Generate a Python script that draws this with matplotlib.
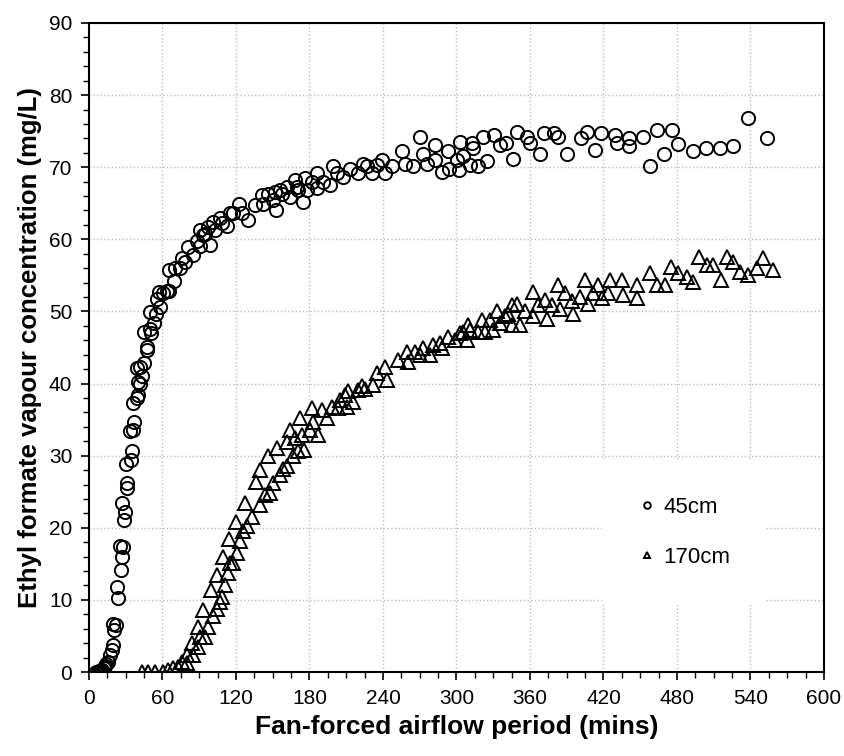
import numpy as np
import matplotlib
matplotlib.use('Agg')
import matplotlib.pyplot as plt
from matplotlib.ticker import MultipleLocator

plt.rcParams['font.family'] = ['Liberation Sans', 'DejaVu Sans']

# 45cm sampling height (circles)
x_45 = [6, 7, 8, 9, 10, 11, 12, 13, 14, 15.8, 17, 18.5, 19.8, 20, 20.7, 21.8, 22.6, 24, 25.3, 26,
        26.7, 27.2, 28, 28.8, 29.4, 30, 30.8, 31.3, 33.5, 34.3, 34.8, 36.2, 36.2, 37, 38.9, 38.9,
        39.7, 39.7, 41.6, 41.6, 43, 44.9, 44.9, 47, 47, 49.8, 49.8, 50.3, 53, 54.7, 55.8, 57.4, 58,
        60.6, 63.4, 65.5, 65.5, 69.3, 70.1, 74.3, 75.6, 78.4, 81, 84.6, 87.8, 90.6, 90.6, 93.3,
        94.7, 97.4, 98.8, 101.5, 102.9, 106.9, 108.3, 112.3, 115.1, 117.8, 122.7, 124.6, 130,
        135.5, 141, 142.3, 146.4, 150.4, 151.8, 152.7, 155.9, 157.3, 161.3, 164, 168.2, 169.6,
        170.9, 175, 176.3, 177.6, 181.8, 185.9, 185.9, 191.3, 196.7, 199.4, 202.2, 207.6, 213.1,
        219.8, 223.9, 226.7, 230.8, 234.9, 238.9, 241.6, 247.1, 255.3, 258, 264.7, 270.2,
        272.9, 275.7, 282.4, 282.4, 287.9, 293.3, 294.1, 300.2, 302.3, 302.9, 305.6, 311, 312.4,
        313.2, 317.8, 321.4, 324.6, 330.6, 335.5, 340.4, 346.4, 349.7, 357.3, 360, 368.2, 371.4,
        379.6, 383.1, 390.5, 401.6, 406.3, 413.1, 417.7, 429.4, 430.8, 441.1, 441.1, 452, 458,
        463.9, 469.4, 475.7, 480.6, 492.8, 503.7, 515.1, 526, 537.7, 553.2]
y_45 = [0, 0, 0.1, 0, 0.2, 0.3, 0.5, 0.8, 1.1, 1.4, 2.3, 3.1, 3.7, 6.7, 5.8, 6.5, 11.8, 10.2, 17.5, 14.1,
        16, 23.4, 17.3, 21.1, 22.2, 28.9, 26.2, 25.5, 33.4, 29.4, 30.6, 33.6, 37.3, 34.6, 38, 42.1,
        38.4, 40.2, 40, 42.3, 41, 42.8, 47.1, 44.6, 45.1, 47.6, 49.9, 47, 48.4, 49.7, 51.7, 52.7, 50.6,
        52.6, 52.9, 52.8, 55.7, 54.2, 56, 56, 57.4, 56.9, 58.9, 57.8, 59.8, 59.1, 61.3, 60.6,
        60.8, 61.7, 59.2, 62.4, 61.3, 63, 62.3, 61.8, 63.6, 63.6, 64.9, 63.6, 62.7,
        64.7, 66.1, 64.9, 66.3, 65.4, 66.6, 64.0, 66.8, 66.3, 67.3, 65.9, 68.2, 67.3,
        66.8, 65.2, 68.5, 66.8, 68, 69.2, 67.1, 68, 67.5, 70.2, 69.2, 68.7, 69.8,
        69.2, 70.5, 70.1, 69.2, 70.3, 71, 69.2, 70.1, 72.2, 70.5, 70.1, 74.2,
        71.9, 70.5, 73.1, 71.0, 69.4, 72.2, 69.8, 71.0, 69.6, 73.5, 71.5, 70.3, 73.3,
        72.6, 70.1, 74.2, 70.8, 74.5, 73.1, 73.3, 71.1, 74.9, 74.2, 73.4, 71.9, 74.7,
        74.7, 74.2, 71.8, 74.0, 74.9, 72.4, 74.7, 74.5, 73.4, 74.0, 73.0, 74.2, 70.2,
        75.1, 71.8, 75.2, 73.2, 72.2, 72.6, 72.7, 73.0, 76.8, 74.0]

# 170cm sampling height (triangles)
x_170 = [43, 48.4, 53.9, 60.6, 64.7, 68.8, 72.9, 75.7, 79.7, 79.7, 83.8, 85.2, 89.2, 89.2, 90.6,
         93.3, 94.7, 97.4, 99.3, 101.5, 104.2, 104.7, 106.9, 108.3, 109.6, 111, 113.7, 114.5,
         115.1, 117.8, 120, 121.1, 123.3, 126, 127.3, 128.7, 132.8, 136.3, 139.6, 139.6, 143.7,
         146.4, 147.8, 150.4, 153.7, 155.9, 158.6, 161.4, 161.4, 164.1, 166.3, 168.2, 170.9,
         172.2, 173.6, 175.5, 180.4, 181.8, 183.1, 187.2, 190, 194, 198.1, 203.5, 204.9, 209,
         210.4, 211.7, 215.3, 219.8, 222.6, 225.3, 232.1, 234.9, 241.6, 243, 252.5, 259.3, 260.7,
         266.1, 270.2, 272.9, 278.4, 281.1, 286.5, 287.9, 293.3, 298.8, 302.9, 305.6, 308.3,
         309.7, 311, 317.8, 320.5, 323.3, 327.3, 330, 332.8, 335.5, 339.6, 342.3, 345.1, 345.1,
         349.1, 351.8, 355.9, 362.7, 362.7, 366.8, 372.2, 373.6, 377.7, 383.1, 384.5, 388.6,
         394, 395.4, 400.8, 404.9, 407.6, 411.7, 415.8, 418.5, 423.9, 425.3, 434.8, 436.2,
         447.1, 447.1, 458, 463.4, 470.2, 474.9, 481.1, 487.9, 493.3, 498.2, 504.2, 509.6,
         515.7, 520.6, 526, 531.4, 538.2, 545.1, 550.5, 558.6]
y_170 = [0, 0, 0, 0, 0.3, 0.5, 0.7, 1.4, 2.4, 1.2, 4.0, 2.4, 3.5, 6.3, 4.9,
         8.6, 4.9, 6.3, 11.4, 7.7, 8.8, 13.5, 9.7, 10.4, 16.0, 12.1, 13.7, 18.5,
         15.1, 15.1, 20.8, 16.5, 18.1, 19.5, 23.4, 20.2, 21.5, 26.4, 28.0, 23.2, 24.5,
         29.9, 24.8, 26.2, 31.0, 27.3, 28.2, 31.9, 28.5, 33.6, 29.9, 32.4, 30.6,
         35.2, 32.9, 30.8, 33.6, 36.6, 34.7, 32.9, 36.3, 35.2, 36.8, 36.6, 37.7, 38.4,
         36.8, 38.9, 37.5, 39.1, 39.6, 39.3, 39.8, 41.4, 42.3, 40.5, 43.3, 44.4, 43.0,
         44.4, 44.0, 44.9, 44.0, 45.3, 45.6, 44.9, 46.5, 46.0, 47.0, 47.2, 46.0,
         48.1, 47.4, 47.2, 48.8, 47.2, 48.8, 47.4, 50.0, 48.4, 49.3, 49.7, 50.9, 48.1,
         51.1, 48.1, 50.0, 49.3, 52.7, 50.9, 51.6, 49.0, 50.9, 53.7, 50.4, 52.5,
         51.4, 49.7, 52.0, 54.4, 51.1, 52.5, 53.7, 51.8, 52.5, 54.4, 54.4, 52.3,
         53.7, 51.8, 55.3, 53.7, 53.7, 56.2, 55.3, 54.8, 54.1, 57.6, 56.4, 56.4,
         54.4, 57.6, 56.9, 55.5, 55.1, 56.0, 57.4, 55.7]

fig = plt.figure(figsize=(8.45, 7.56), dpi=100)
ax = fig.add_axes([0.1053, 0.1111, 0.8698, 0.8585])

ax.plot(x_45, y_45, linestyle='none', marker='o', markersize=9.5, fillstyle='none',
        markeredgecolor='black', markeredgewidth=1.4, label='45cm', zorder=3)
ax.plot(x_170, y_170, linestyle='none', marker='^', markersize=10, fillstyle='none',
        markeredgecolor='black', markeredgewidth=1.4, label='170cm', zorder=3)

ax.set_xlim(0, 600)
ax.set_ylim(0, 90)
ax.xaxis.set_major_locator(MultipleLocator(60))
ax.xaxis.set_minor_locator(MultipleLocator(15))
ax.yaxis.set_major_locator(MultipleLocator(10))
ax.yaxis.set_minor_locator(MultipleLocator(2))
ax.tick_params(which='major', direction='out', length=6, width=1.2, labelsize=15, pad=6)
ax.tick_params(which='minor', direction='out', length=4, width=1.0)
ax.grid(True, which='major', color='#bdbdbd', linestyle=':', linewidth=1.0, zorder=0)
ax.set_axisbelow(True)
for s in ax.spines.values():
    s.set_linewidth(1.5)

ax.set_xlabel('Fan-forced airflow period (mins)', fontsize=19, fontweight='bold', labelpad=5)
ax.set_ylabel('Ethyl formate vapour concentration (mg/L)', fontsize=18.5, fontweight='bold', labelpad=5)

leg = ax.legend(loc='center', bbox_to_anchor=(0.81, 0.215), fontsize=16, markerscale=0.5,
                handlelength=0.8, handletextpad=0.35, labelspacing=1.3, borderpad=1.6,
                frameon=True, fancybox=False)
leg.get_frame().set_facecolor('white')
leg.get_frame().set_edgecolor('none')
leg.get_frame().set_alpha(1.0)

fig.savefig('out.png', dpi=100)
